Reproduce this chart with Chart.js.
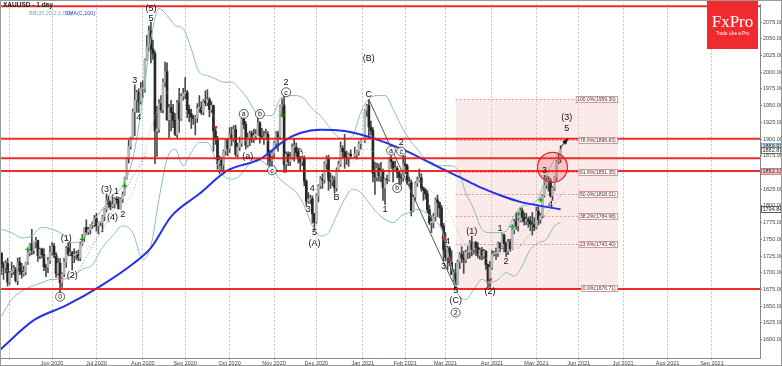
<!DOCTYPE html>
<html><head><meta charset="utf-8">
<script src="https://cdn.jsdelivr.net/npm/chart.js@4.4.0/dist/chart.umd.min.js"></script>
<style>html,body{margin:0;padding:0;background:#fff;overflow:hidden}canvas{display:block}</style>
</head><body><canvas id="c" width="782" height="366"></canvas>
<script>
// ---------- categories ----------
const startDate = '2020-04-27';
const endDate = '2021-10-01';
const monthNames = ['Jan','Feb','Mar','Apr','May','Jun','Jul','Aug','Sep','Oct','Nov','Dec'];
const yTicks = [1600,1625,1650,1675,1700,1725,1750,1775,1800,1825,1850,1875,1900,1925,1950,1975,2000,2025,2050,2075];

// ---------- daily XAUUSD candles (one value per weekday from startDate) ----------
const opens = [
1729,1713,1707,1714,1686, 1700,1702,1706,1688,1716, 1702,1698,1701,1716,1730, 1743,1733,1746,1748,1725,
1735,1727,1709,1708,1718, 1730,1740,1727,1699,1714, 1685,1698,1716,1737,1728, 1730,1726,1727,1727,1722,
1743,1754,1768,1761,1764, 1771,1772,1781,1770,1775, 1775,1784,1795,1809,1803, 1799,1802,1810,1809,1796,
1810,1817,1842,1871,1889, 1902,1941,1958,1970,1956, 1975,1976,2019,2038,2062, 2035,2028,1912,1915,1953,
1944,1985,2001,1929,1947, 1940,1928,1907,1954,1930, 1964,1968,1970,1944,1938, 1933,1931,1932,1946,1947,
1940,1956,1954,1959,1944, 1950,1912,1900,1863,1868, 1861,1882,1898,1886,1906, 1900,1914,1877,1888,1894,
1930,1922,1891,1902,1908, 1899,1905,1907,1924,1904, 1902,1902,1907,1878,1868, 1879,1894,1909,1903,1949,
1951,1862,1877,1866,1873, 1888,1888,1880,1871,1866, 1872,1837,1807,1810,1811, 1788,1776,1815,1830,1841,
1839,1863,1871,1838,1837, 1839,1827,1854,1862,1886, 1881,1873,1871,1877,null, 1875,1877,1882,1893,null,
1898,1943,1950,1918,1913, 1849,1843,1856,1845,1851, 1827,1840,1839,1871,1866, 1855,1856,1850,1843,1842,
1863,1860,1834,1835,1793, 1813,1834,1838,1842,1827, 1824,1818,1794,1775,1775, 1784,1809,1805,1797,1770,
1734,1723,1737,1715,1698, 1700,1683,1716,1727,1722, 1719,1731,1731,1745,1735, 1745,1738,1726,1734,1725,
1732,1712,1685,1708,1728, 1729,1729,1744,1737,1756, 1744,1732,1746,1736,1764, 1777,1770,1778,1793,1783,
1777,1780,1777,1773,1772, 1768,1792,1779,1785,1815, 1831,1836,1837,1815,1827, 1843,1867,1869];
const highs = [
1730,1716,1718,1722,1702, 1716,1711,1708,1722,1723, 1714,1710,1716,1733,1744, 1765,1746,1753,1749,1737,
1737,1736,1713,1723,1740, 1745,1744,1730,1722,1721, 1700,1722,1739,1745,1744, 1732,1736,1732,1734,1745,
1757,1768,1779,1768,1772, 1776,1786,1789,1775,1777, 1786,1796,1818,1815,1807, 1817,1812,1814,1813,1812,
1821,1843,1872,1898,1903, 1945,1981,1973,1975,1985, 1987,2020,2055,2069,2075, 2048,2032,1949,1959,1965,
1990,2015,2014,1952,1958, 1952,1938,1958,1976,1968, 1976,1992,1973,1951,1945, 1936,1935,1953,1965,1956,
1959,1972,1974,1962,1956, 1951,1916,1904,1875,1873, 1884,1900,1901,1917,1918, 1920,1921,1894,1903,1933,
1933,1926,1909,1912,1912, 1915,1914,1931,1926,1916, 1912,1915,1911,1883,1882, 1897,1911,1912,1951,1960,
1965,1881,1881,1880,1893, 1900,1894,1886,1874,1875, 1875,1839,1820,1816,1815, 1789,1818,1832,1844,1848,
1866,1875,1876,1849,1845, 1844,1857,1867,1896,1890, 1907,1882,1879,1884,null, 1888,1883,1896,1901,null,
1944,1952,1959,1927,1917, 1865,1864,1863,1865,1855, 1841,1846,1872,1875,1867, 1867,1859,1853,1848,1875,
1875,1862,1843,1839,1816, 1836,1843,1855,1848,1828, 1826,1823,1801,1785,1789, 1812,1816,1806,1801,1774,
1760,1740,1739,1733,1705, 1714,1719,1730,1739,1732, 1734,1740,1748,1755,1746, 1747,1745,1737,1738,1735,
1733,1713,1717,1733,1732, 1737,1746,1745,1758,1758, 1746,1750,1750,1766,1780, 1790,1782,1797,1797,1790,
1789,1783,1784,1790,1782, 1798,1799,1789,1817,1846, 1845,1844,1841,1829,1844, 1868,1877,1890];
const lows = [
1697,1690,1700,1680,1683, 1693,1697,1686,1682,1697, 1692,1695,1697,1712,1725, 1727,1728,1737,1717,1721,
1722,1703,1694,1700,1714, 1726,1722,1693,1696,1670, 1678,1694,1708,1725,1725, 1704,1715,1720,1718,1718,
1741,1747,1757,1757,1758, 1766,1769,1762,1758,1770, 1761,1778,1791,1797,1794, 1797,1797,1803,1795,1795,
1805,1816,1840,1864,1885, 1900,1905,1940,1940,1952, 1962,1970,2018,2032,2014, 2019,1863,1874,1910,1940,
1939,1978,1928,1902,1912, 1917,1905,1902,1910,1928, 1958,1960,1932,1926,1916, 1922,1906,1925,1940,1937,
1936,1949,1950,1933,1940, 1882,1892,1855,1848,1851, 1851,1876,1875,1880,1890, 1896,1874,1873,1883,1889,
1915,1885,1888,1890,1895, 1895,1899,1906,1894,1900, 1892,1899,1860,1860,1859, 1871,1886,1882,1900,1934,
1850,1850,1860,1860,1870, 1867,1874,1864,1853,1860, 1830,1800,1804,1803,1774, 1764,1774,1806,1826,1826,
1834,1855,1823,1826,1830, 1819,1822,1852,1859,1872, 1856,1862,1859,1872,null, 1872,1870,1876,1885,null,
1895,1934,1901,1906,1836, 1817,1837,1837,1836,1808, 1802,1833,1837,1856,1836, 1852,1842,1831,1832,1837,
1848,1832,1830,1785,1791, 1807,1829,1836,1822,1808, 1810,1790,1772,1760,1767, 1778,1784,1782,1767,1717,
1718,1705,1710,1697,1687, 1677,1682,1706,1715,1699, 1715,1721,1722,1725,1728, 1726,1722,1720,1719,1721,
1705,1678,1678,1705,1725, 1720,1724,1731,1736,1731, 1724,1727,1732,1735,1758, 1765,1762,1776,1776,1771,
1772,1768,1763,1756,1763, 1766,1771,1774,1782,1813, 1826,1822,1813,1808,1823, 1838,1863,1865];
const closes = [
1713,1707,1714,1686,1700, 1702,1706,1688,1716,1702, 1698,1701,1716,1730,1743, 1733,1746,1748,1725,1735,
1727,1709,1708,1718,1730, 1740,1727,1699,1714,1685, 1698,1716,1737,1728,1730, 1726,1727,1727,1722,1743,
1754,1768,1761,1764,1771, 1772,1781,1770,1775,1775, 1784,1795,1809,1803,1799, 1802,1810,1809,1796,1810,
1817,1842,1871,1889,1902, 1941,1958,1970,1956,1975, 1976,2019,2038,2062,2035, 2028,1912,1915,1953,1944,
1985,2001,1929,1947,1940, 1928,1907,1954,1930,1964, 1968,1970,1944,1938,1933, 1931,1932,1946,1947,1940,
1956,1954,1959,1944,1950, 1912,1900,1863,1868,1861, 1882,1898,1886,1906,1900, 1914,1877,1888,1894,1930,
1922,1891,1902,1908,1899, 1905,1907,1924,1904,1902, 1902,1907,1878,1868,1879, 1894,1909,1903,1949,1951,
1862,1877,1866,1873,1888, 1888,1880,1871,1866,1872, 1837,1807,1810,1811,1788, 1776,1815,1830,1841,1839,
1863,1871,1838,1837,1839, 1827,1854,1862,1886,1881, 1873,1871,1877,1875,null, 1877,1882,1893,1898,null,
1943,1950,1918,1913,1849, 1843,1856,1845,1851,1827, 1840,1839,1871,1866,1855, 1856,1850,1843,1842,1863,
1860,1834,1835,1793,1813, 1834,1838,1842,1827,1824, 1818,1794,1775,1775,1784, 1809,1805,1797,1770,1734,
1723,1737,1715,1698,1700, 1683,1716,1727,1722,1719, 1731,1731,1745,1735,1745, 1738,1726,1734,1725,1732,
1712,1685,1708,1728,1729, 1729,1744,1737,1756,1744, 1732,1746,1736,1764,1777, 1770,1778,1793,1783,1777,
1780,1777,1773,1772,1768, 1792,1779,1785,1815,1831, 1836,1837,1815,1827,1843, 1867,1869,1883];

// ---------- indicators (bar number, price) ----------
const smaBars = [-1,16,32,49,65,74,84,98,112,128,141,148,158,170,180,190,202,212,220,227,237,247,257,267,277];
const smaVals = [1584,1629,1651,1680,1713,1737,1784,1818,1853,1870,1899,1909,1914,1912,1905,1895,1880,1865,1853,1843,1828,1816,1806,1800,1795];
const bbBars   = [0,5,10,15,20,25,30,35,40,45,50,55,60,65,70,74,78,82,86,90,94,98,102,106,110,114,118,122,126,130,134,138,142,146,150,154,158,162,166,170,174,178,182,186,190,194,198,202,206,210,214,218,222,226,230,234,238,242,246,250,254,258,262,266,270,274,277];
const bbUpper  = [1765,1760,1752,1755,1768,1765,1758,1745,1748,1775,1795,1815,1830,1870,1960,2050,2095,2085,2070,2065,2035,2000,1995,1990,1985,1985,1975,1960,1940,1935,1935,1960,1965,1965,1960,1945,1935,1920,1905,1900,1905,1940,1960,1965,1965,1945,1920,1900,1885,1870,1860,1860,1860,1855,1820,1795,1765,1760,1760,1762,1785,1800,1802,1812,1845,1870,1885];
const bbMiddle = [1700,1705,1710,1715,1722,1727,1722,1720,1728,1745,1765,1785,1800,1820,1870,1915,1950,1970,1975,1962,1952,1945,1945,1930,1915,1900,1895,1900,1905,1900,1895,1900,1895,1890,1880,1860,1845,1840,1845,1855,1865,1880,1885,1875,1865,1855,1850,1845,1840,1830,1820,1810,1790,1762,1742,1730,1725,1720,1725,1730,1740,1760,1770,1780,1800,1820,1830];
const bbLower  = [1635,1660,1672,1680,1685,1690,1690,1695,1705,1712,1738,1755,1770,1760,1720,1740,1810,1870,1885,1860,1880,1895,1895,1870,1845,1840,1845,1860,1870,1865,1855,1840,1830,1820,1800,1770,1755,1760,1785,1810,1825,1820,1805,1790,1780,1775,1785,1790,1795,1790,1780,1765,1720,1670,1660,1675,1690,1685,1690,1700,1695,1710,1735,1745,1750,1770,1775];

// ---------- drawn objects ----------
const fibPct = [100.0,78.6,61.8,50.0,38.2,23.6,0.0];
const fibVal = [1959.30,1898.83,1851.35,1818.01,1784.68,1743.40,1676.71];
const fibFrom = '2021-03-08';
const fibToBar = 305.5;
const keyLevels = [2098.5,1900.5,1871.3,1852.13,1675.5];
const axisMarks = [['1889.97','#c9e3f2','#6aa0c0'],['1882.87','#ffffff','#555555'],['1852.13','#f5c8c8','#d06060'],['1794.84','#ffffff','#333333']];
const waveLabels = [
 ['2020-08-07',2095.7,'(5)'],['2020-08-07',2080.5,'5'],['2020-07-28',1987.8,'3'],['2020-07-30',1931.6,'4'],
 ['2020-07-08',1825.2,'(3)'],['2020-07-15',1821,'1'],['2020-07-13',1782.3,'(4)'],['2020-07-20',1786.8,'2'],
 ['2020-06-10',1751.3,'(1)'],['2020-06-15',1695.1,'(2)'],['2020-06-05',1664.1,'0','c'],
 ['2020-10-12',1937.5,'a','c'],['2020-10-22',1937.5,'b','c'],['2020-10-14',1874,'(a)'],['2020-10-30',1853.3,'c','c'],
 ['2020-11-10',1984.8,'2'],['2020-11-10',1970,'c','c'],['2020-11-19',1881.4,'A'],['2020-11-27',1826.7,'4'],
 ['2020-11-25',1794.1,'3'],['2020-11-30',1760.1,'5'],['2020-11-30',1743.9,'(A)'],['2020-12-15',1811.9,'B'],
 ['2021-01-06',2020.3,'(B)'],['2021-01-06',1967.1,'C'],['2021-01-21',1882.8,'a','c'],['2021-01-28',1881.4,'c','c'],
 ['2021-01-28',1894.7,'2'],['2021-01-26',1826.7,'b','c'],['2021-01-18',1794.1,'1'],
 ['2021-02-26',1709.9,'3'],['2021-03-02',1746.8,'4'],['2021-03-08',1672.9,'5'],['2021-03-08',1658.1,'(C)'],['2021-03-08',1640.4,'2','c'],
 ['2021-03-18',1761.6,'(1)'],['2021-03-31',1671.4,'(2)'],['2021-04-07',1766.1,'1'],['2021-04-12',1717.3,'2'],
 ['2021-05-12',1801.5,'4'],['2021-05-07',1853.3,'3'],['2021-05-24',1931.6,'(3)'],['2021-05-24',1915.4,'5']];
const buySignals  = [['2020-05-14',1735],['2020-06-22',1750],['2020-07-21',1830],['2020-11-06',1936],['2021-04-15',1769],['2021-04-20',1788],['2021-05-05',1809]];
const sellSignals = [['2020-06-05',1691],['2020-09-22',1917],['2020-10-30',1872],['2021-02-26',1751],['2021-03-03',1719],['2021-03-31',1689]];
const bcLine = [['2021-01-06',1959.3],['2021-03-08',1676.7]];
const dottedLines = [[['2020-06-18',1702.5],['2020-08-05',1880]],[['2021-04-20',1736.5],['2021-05-21',1822]]];
const arrow = [['2021-05-19',1887],['2021-05-24',1899]];
const circleAt = ['2021-05-13',1857.7];

// ---------- helpers ----------
function weekdays(a,b){const out=[];const d=new Date(a+'T00:00:00Z');const e=new Date(b+'T00:00:00Z');
  while(d<=e){const w=d.getUTCDay();if(w>0&&w<6)out.push(d.toISOString().slice(0,10));d.setUTCDate(d.getUTCDate()+1);}return out;}
const dates = weekdays(startDate,endDate);
const bar = s => dates.indexOf(s);
const monthTicks = [];
for(let i=1;i<dates.length;i++){ if(dates[i].slice(5,7)!==dates[i-1].slice(5,7) && i<362){
  const m=+dates[i].slice(5,7)-1; monthTicks.push({idx:i,label: monthTicks.length===0?'':monthNames[m]+' '+dates[i].slice(0,4)}); } }

const wickData=[], bodyData=[];
opens.forEach((o,i)=>{ if(o==null) return;
  wickData.push({x:i,y:[lows[i],highs[i]]});
  bodyData.push({x:i,y:[o,closes[i]]}); });
const pts=(xs,ys)=>xs.map((x,i)=>({x,y:ys[i]}));

const overlay={id:'overlay',
 beforeDatasetsDraw(chart){
   const {ctx,scales:{x,y}}=chart; ctx.save();
   const x0=x.getPixelForValue(bar(fibFrom)), x1=x.getPixelForValue(fibToBar);
   const yT=y.getPixelForValue(fibVal[0]), yB=y.getPixelForValue(fibVal[fibVal.length-1]);
   ctx.fillStyle='rgba(240,190,190,0.32)'; ctx.fillRect(x0,yT,x1-x0,yB-yT);
   ctx.strokeStyle='rgba(225,120,120,0.75)'; ctx.lineWidth=1; ctx.setLineDash([2,2]);
   fibVal.forEach(v=>{const yy=Math.round(y.getPixelForValue(v))+0.5;ctx.beginPath();ctx.moveTo(x0,yy);ctx.lineTo(x1,yy);ctx.stroke();});
   // dotted trend lines
   ctx.strokeStyle='#888'; ctx.setLineDash([1,2]);
   dottedLines.forEach(l=>{ctx.beginPath();ctx.moveTo(x.getPixelForValue(bar(l[0][0])),y.getPixelForValue(l[0][1]));
     ctx.lineTo(x.getPixelForValue(bar(l[1][0])),y.getPixelForValue(l[1][1]));ctx.stroke();});
   ctx.restore();
 },
 afterDatasetsDraw(chart){
   const {ctx,chartArea:a,scales:{x,y}}=chart; ctx.save();
   // B-C line
   ctx.strokeStyle='#555'; ctx.lineWidth=1; ctx.beginPath();
   ctx.moveTo(x.getPixelForValue(bar(bcLine[0][0])),y.getPixelForValue(bcLine[0][1]));
   ctx.lineTo(x.getPixelForValue(bar(bcLine[1][0])),y.getPixelForValue(bcLine[1][1])); ctx.stroke();
   // key levels
   ctx.strokeStyle='rgba(240,20,20,0.9)'; ctx.lineWidth=2;
   keyLevels.forEach(v=>{const yy=y.getPixelForValue(v);ctx.beginPath();ctx.moveTo(a.left,yy);ctx.lineTo(a.right,yy);ctx.stroke();});
   // fib labels
   const x1=x.getPixelForValue(fibToBar);
   ctx.font='5px "Liberation Sans"'; ctx.textBaseline='middle'; ctx.textAlign='right';
   fibVal.forEach((v,i)=>{const t=fibPct[i].toFixed(1)+'%('+v.toFixed(2)+')';const w=ctx.measureText(t).width+3;
     const yy=Math.round(y.getPixelForValue(v));ctx.fillStyle='#fff';ctx.fillRect(x1-w-1,yy-3,w,6);
     ctx.strokeStyle='#e09090';ctx.lineWidth=1;ctx.strokeRect(x1-w-0.5,yy-2.5,w,6);ctx.fillStyle='#333';ctx.fillText(t,x1-2.5,yy+0.5);});
   // circle
   const cx=x.getPixelForValue(bar(circleAt[0])), cy=y.getPixelForValue(circleAt[1]);
   ctx.beginPath();ctx.arc(cx,cy,15,0,Math.PI*2);ctx.fillStyle='rgba(240,60,60,0.22)';ctx.fill();
   ctx.strokeStyle='#e82020';ctx.lineWidth=1.2;ctx.stroke();
   // arrow
   const ax0=x.getPixelForValue(bar(arrow[0][0])),ay0=y.getPixelForValue(arrow[0][1]);
   const ax1=x.getPixelForValue(bar(arrow[1][0])),ay1=y.getPixelForValue(arrow[1][1]);
   ctx.strokeStyle='#222';ctx.lineWidth=1;ctx.beginPath();ctx.moveTo(ax0,ay0);ctx.lineTo(ax1,ay1);ctx.stroke();
   const ang=Math.atan2(ay1-ay0,ax1-ax0);ctx.fillStyle='#111';ctx.beginPath();ctx.moveTo(ax1+2,ay1-2);
   ctx.lineTo(ax1-5*Math.cos(ang-0.5),ay1-5*Math.sin(ang-0.5));ctx.lineTo(ax1-5*Math.cos(ang+0.5),ay1-5*Math.sin(ang+0.5));ctx.closePath();ctx.fill();
   // signals
   ctx.strokeStyle='#1a9a1a';ctx.lineWidth=1.2;
   buySignals.forEach(s=>{const px=x.getPixelForValue(bar(s[0])),py=y.getPixelForValue(s[1]);
     ctx.beginPath();ctx.moveTo(px-2.5,py);ctx.lineTo(px+2.5,py);ctx.moveTo(px,py-2.5);ctx.lineTo(px,py+2.5);ctx.stroke();});
   ctx.fillStyle='#d02020';
   sellSignals.forEach(s=>{const px=x.getPixelForValue(bar(s[0])),py=y.getPixelForValue(s[1]);
     ctx.beginPath();ctx.moveTo(px-2.5,py-1.5);ctx.lineTo(px+2.5,py-1.5);ctx.lineTo(px,py+2);ctx.closePath();ctx.fill();});
   // wave labels
   ctx.textAlign='center';ctx.textBaseline='middle';
   waveLabels.forEach(l=>{const px=x.getPixelForValue(bar(l[0])),py=y.getPixelForValue(l[1]);
     if(l[3]==='c'){ctx.beginPath();ctx.arc(px,py,4.5,0,Math.PI*2);ctx.fillStyle='rgba(255,255,255,0.8)';ctx.fill();
       ctx.strokeStyle='#333';ctx.lineWidth=0.8;ctx.stroke();ctx.font='7px "Liberation Sans"';ctx.fillStyle='#111';ctx.fillText(l[2],px,py+0.5);}
     else{ctx.font='9px "Liberation Sans"';ctx.fillStyle='#111';ctx.fillText(l[2],px,py);} });
   // axis value marks
   ctx.font='5.5px "Liberation Sans"';ctx.textAlign='left';
   axisMarks.forEach(m=>{const yy=Math.round(y.getPixelForValue(+m[0]));ctx.fillStyle=m[1];ctx.fillRect(a.right+1,yy-3,20,6);
     ctx.strokeStyle=m[2];ctx.lineWidth=0.8;ctx.strokeRect(a.right+1.5,yy-2.5,19.5,6);ctx.fillStyle='#222';ctx.fillText(m[0],a.right+2.5,yy+0.5);});
   // logo
   ctx.fillStyle='#ef2b2f';ctx.fillRect(707,0,51,49);
   ctx.fillStyle='#fff';ctx.textAlign='center';ctx.font='17px "Liberation Serif"';ctx.fillText('FxPro',732.5,23);
   ctx.font='4.5px "Liberation Sans"';ctx.fillText('Trade Like a Pro',732.5,34);
   // title & legend
   ctx.textAlign='left';ctx.font='bold 6.5px "Liberation Sans"';ctx.fillStyle='#222';ctx.fillText('XAUUSD - 1 day',3,5.5);
   ctx.font='5.5px "Liberation Sans"';ctx.fillStyle='#7aa8a8';ctx.fillText('BB(20,20,2.0,0,0)',29,13);
   ctx.fillStyle='#3040e0';ctx.fillText('SMA(C,100)',65,13);
   // frame
   ctx.strokeStyle='#9a9a9a';ctx.lineWidth=1;ctx.strokeRect(0.5,0.5,781,365);
   ctx.restore();
 }};

new Chart(document.getElementById('c'),{
 type:'bar',
 data:{datasets:[
  {type:'line',label:'SMA(C,100)',data:pts(smaBars,smaVals),borderColor:'#2233e6',borderWidth:2,pointRadius:0,cubicInterpolationMode:'monotone',order:0},
  {type:'line',label:'BB upper',data:pts(bbBars,bbUpper),borderColor:'#8cbcbc',borderWidth:1,pointRadius:0,cubicInterpolationMode:'monotone',order:1},
  {type:'line',label:'BB middle',data:pts(bbBars,bbMiddle),borderColor:'#a8c8c8',borderWidth:1,borderDash:[1,2],pointRadius:0,cubicInterpolationMode:'monotone',order:1},
  {type:'line',label:'BB lower',data:pts(bbBars,bbLower),borderColor:'#8cbcbc',borderWidth:1,pointRadius:0,cubicInterpolationMode:'monotone',order:1},
  {label:'body',data:bodyData,grouped:false,barThickness:2,minBarLength:1,
   backgroundColor:c=>{const r=c.raw;return r&&r.y[1]>=r.y[0]?'#b4b4b4':'#262626';},order:2},
  {label:'wick',data:wickData,grouped:false,barThickness:1,backgroundColor:'#4a4a4a',order:3}
 ]},
 options:{responsive:false,animation:false,devicePixelRatio:1,
  layout:{padding:0},
  plugins:{legend:{display:false},tooltip:{enabled:false}},
  scales:{
   x:{type:'linear',min:-0.77,max:375.8,offset:false,
      afterBuildTicks:s=>{s.ticks=monthTicks.map(m=>({value:m.idx}));},
      afterFit:s=>{s.height=8;},
      ticks:{autoSkip:false,maxRotation:0,padding:0,font:{size:5.5,family:'Liberation Sans'},color:'#444',
        callback:v=>{const m=monthTicks.find(t=>t.idx===v);return m?m.label:'';}},
      grid:{offset:false,color:'#c4c4c4',lineWidth:1,drawTicks:true,tickLength:2},
      border:{display:true,color:'#888',dash:[2,2]}},
   y:{position:'right',min:1572.4,max:2101.6,
      afterBuildTicks:s=>{s.ticks=yTicks.map(v=>({value:v}));},
      afterFit:s=>{s.width=22;},
      ticks:{padding:1,font:{size:5.5,family:'Liberation Sans'},color:'#444',callback:v=>v.toFixed(2)},
      grid:{drawOnChartArea:false,drawTicks:true,tickLength:2,color:'#777'},
      border:{display:true,color:'#888'}}
  }},
 plugins:[overlay]
});
</script></body></html>
